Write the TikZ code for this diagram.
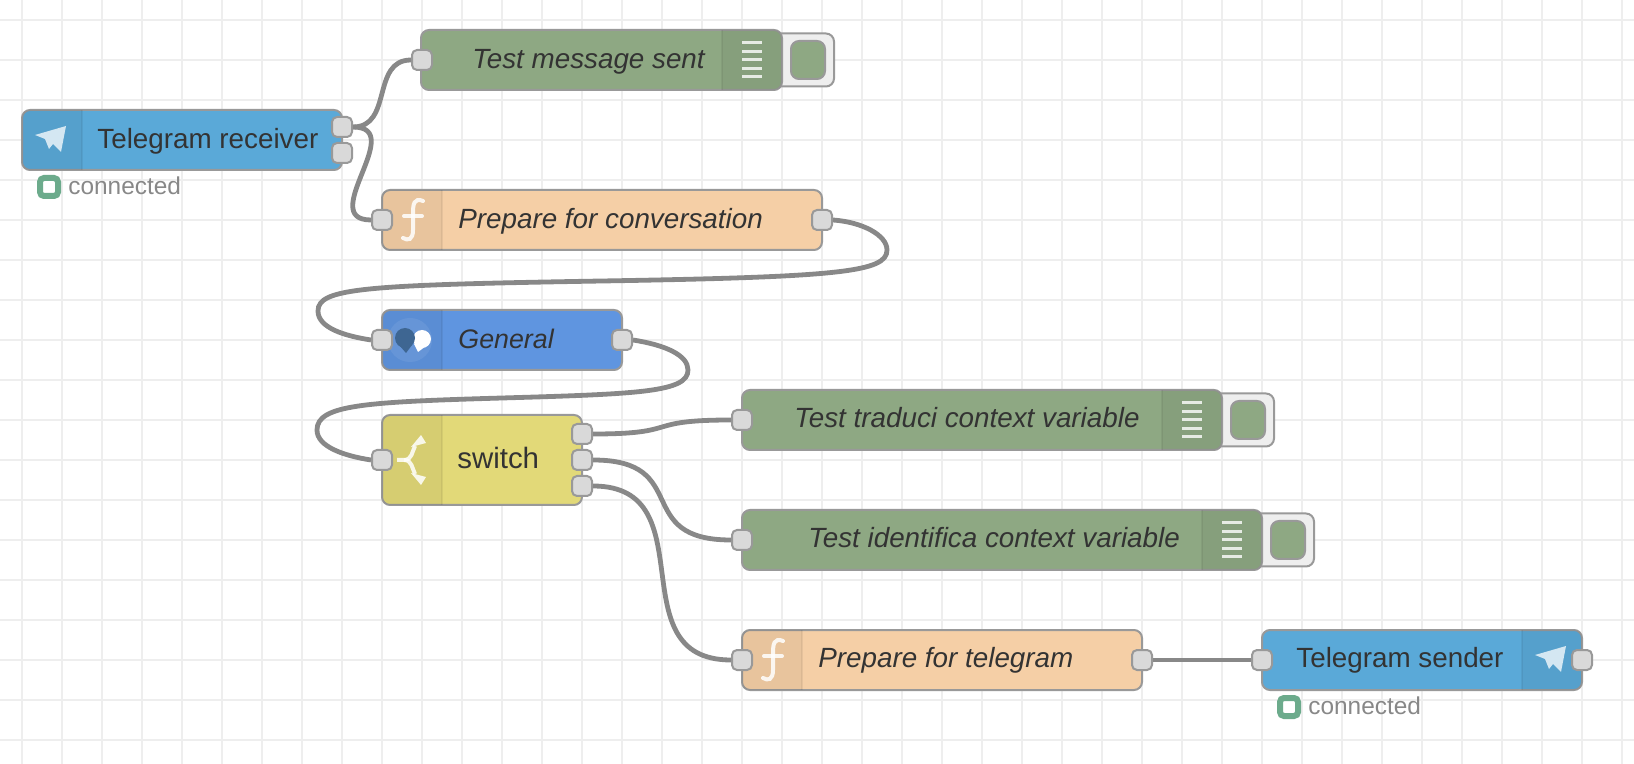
\documentclass[tikz,border=0pt]{standalone}
\usepackage{fontspec}
\setmainfont{Liberation Sans}
\usetikzlibrary{arrows.meta,calc}
\definecolor{nrblue}{RGB}{90,169,216}
\definecolor{nrgreen}{RGB}{142,168,131}
\definecolor{nrorange}{RGB}{245,207,166}
\definecolor{nrroyal}{RGB}{95,149,224}
\definecolor{nryellow}{RGB}{226,217,120}
\definecolor{nrgrid}{RGB}{238,238,238}
\definecolor{nredge}{RGB}{153,153,153}
\definecolor{nrwire}{RGB}{136,136,136}
\definecolor{nrport}{RGB}{217,217,217}
\definecolor{nrtext}{RGB}{51,51,51}
\definecolor{nrstatus}{RGB}{108,171,140}
\definecolor{nrdark}{RGB}{62,102,146}
\newcommand{\leftshade}[1]{\begin{scope}
  \clip[rounded corners=4pt] (#1.north west) rectangle (#1.south east);
  \fill[iconshade] (#1.north west) rectangle ($(#1.south west)+(60,0)$);
  \draw[icondiv] ($(#1.north west)+(60,0)$) -- ($(#1.south west)+(60,0)$);
\end{scope}}
\newcommand{\rightshade}[1]{\begin{scope}
  \clip[rounded corners=4pt] (#1.north west) rectangle (#1.south east);
  \fill[iconshade] (#1.north east) rectangle ($(#1.south east)+(-60,0)$);
  \draw[icondiv] ($(#1.north east)+(-60,0)$) -- ($(#1.south east)+(-60,0)$);
\end{scope}}
\newcommand{\planeicon}[1]{\fill[white, opacity=0.75, shift={(#1)}]
  (66,126) -- (35,135) -- (45,139) -- (49,149) -- (53,144) -- (61,152) -- cycle;}
\newcommand{\funcicon}[1]{\begin{scope}[shift={(#1)}]
  \draw[glyph] (41,-19) .. controls (32,-23) and (31,-15) .. (31,-8) -- (31,10)
    .. controls (31,20) and (26,21) .. (21,18);
  \draw[glyph] (22,-4) -- (40,-4);
\end{scope}}
\newcommand{\listicon}[1]{\begin{scope}[shift={(#1)}]
  \foreach \ly in {-17,-8.5,0,8.5,17} \draw[listbar] (-10,\ly) -- (10,\ly);
\end{scope}}
\begin{document}
\begin{tikzpicture}[x=0.5pt, y=-0.5pt,
  flowbox/.style={draw=nredge, line width=1pt, rounded corners=4pt, minimum height=30pt, inner sep=0pt, outer sep=0pt},
  port/.style={draw=nredge, line width=1pt, fill=nrport, rounded corners=2.5pt, minimum size=10pt, inner sep=0pt, outer sep=0.5pt},
  wire/.style={draw=nrwire, line width=2.4pt},
  label/.style={anchor=base west, inner sep=0pt, yshift=-0.5pt, text=nrtext, font=\fontsize{13.9}{16}\selectfont},
  flowlabel/.style={label, font=\fontsize{13.9}{16}\selectfont\itshape},
  statustext/.style={anchor=base west, inner sep=0pt, yshift=-0.7pt, text=nrwire, font=\fontsize{12.2}{14}\selectfont},
  statusdot/.style={draw=nrstatus, line width=3pt, fill=white, rounded corners=2pt, minimum size=9pt, inner sep=0pt},
  dbgbutton/.style={draw=nredge, line width=1pt, fill=nrgrid, rounded corners=4pt, minimum width=32pt, minimum height=26.5pt},
  dbginner/.style={draw=nredge, line width=1pt, fill=nrgreen, rounded corners=4pt, minimum width=17pt, minimum height=19pt, inner sep=0pt},
  iconshade/.style={fill=black, opacity=0.05},
  icondiv/.style={draw=black, opacity=0.06, line width=0.6pt},
  glyph/.style={draw=white, opacity=0.85, line width=2pt, line cap=round},
  listbar/.style={draw=white, opacity=0.8, line width=1.5pt},
  gridline/.style={draw=nrgrid, line width=1pt}]

\useasboundingbox[fill=white] (0,0) rectangle (1634,764);

% Grid
\foreach \gx in {22,62,...,1622} \draw[gridline] (\gx,0) -- (\gx,764);
\foreach \gy in {20,60,...,740} \draw[gridline] (0,\gy) -- (1634,\gy);

% Debug buttons
\node[dbgbutton] (dbgsentbtn) at (802,60) {};
\node[dbgbutton] (dbgtradbtn) at (1242,420) {};
\node[dbgbutton] (dbgidenbtn) at (1282,540) {};
\node[dbginner] (dbgsentdot) at (808,60) {};
\node[dbginner] (dbgtraddot) at (1248,420) {};
\node[dbginner] (dbgidendot) at (1288,540) {};

% Telegram receiver
\node[flowbox, fill=nrblue, minimum width=160pt] (recv) at (182,140) {};
\leftshade{recv}
\planeicon{0,0}
\node[label] (recvtxt) at (97,148) {Telegram receiver};
\node[statusdot] (recvdot) at (49,187) {};
\node[statustext] (recvstat) at (68,193) {connected};

% Test message sent
\node[flowbox, fill=nrgreen, minimum width=180.5pt] (dbgsent) at (601.5,60) {};
\rightshade{dbgsent}
\listicon{752,60}
\node[flowlabel] (dbgsenttxt) at (472,68) {Test message sent};

% Prepare for conversation
\node[flowbox, fill=nrorange, minimum width=220pt] (conv) at (602,220) {};
\leftshade{conv}
\funcicon{382,220}
\node[flowlabel] (convtxt) at (458,228) {Prepare for conversation};

% General
\node[flowbox, fill=nrroyal, minimum width=120pt] (gen) at (502,340) {};
\leftshade{gen}
\fill[white, opacity=0.08] (410,340) circle[radius=22];
\fill[white] (422,339) circle[radius=9];
\fill[white] (414,344) -- (418,352) -- (426,346) -- cycle;
\fill[nrdark] (405,338) circle[radius=10];
\fill[nrdark] (399,345) -- (406,353) -- (412,345) -- cycle;
\node[flowlabel, font=\fontsize{13.4}{16}\selectfont\itshape] (gentxt) at (458,348) {General};

% switch
\node[flowbox, fill=nryellow, minimum width=100pt, minimum height=45pt] (sw) at (482,460) {};
\leftshade{sw}
\draw[glyph, line cap=butt] (397,460) -- (404,460) .. controls (412,460) and (412,452) .. (415,446);
\draw[glyph, line cap=butt] (404,460) .. controls (412,460) and (412,468) .. (415,474);
\fill[white, opacity=0.85] (426,443) -- (421,435) -- (411,447) -- cycle;
\fill[white, opacity=0.85] (426,477) -- (421,485) -- (411,473) -- cycle;
\node[label, font=\fontsize{14.7}{16}\selectfont] (swtxt) at (457,468) {switch};

% Test traduci context variable
\node[flowbox, fill=nrgreen, minimum width=240pt] (dbgtrad) at (982,420) {};
\rightshade{dbgtrad}
\listicon{1192,420}
\node[flowlabel] (dbgtradtxt) at (794,427) {Test traduci context variable};

% Test identifica context variable
\node[flowbox, fill=nrgreen, minimum width=260pt] (dbgiden) at (1002,540) {};
\rightshade{dbgiden}
\listicon{1232,540}
\node[flowlabel] (dbgidentxt) at (808,547) {Test identifica context variable};

% Prepare for telegram
\node[flowbox, fill=nrorange, minimum width=200pt] (tele) at (942,660) {};
\leftshade{tele}
\funcicon{742,660}
\node[flowlabel] (teletxt) at (818,667) {Prepare for telegram};

% Telegram sender
\node[flowbox, fill=nrblue, minimum width=160pt] (send) at (1422,660) {};
\rightshade{send}
\planeicon{1500,520}
\node[label] (sendtxt) at (1296,667) {Telegram sender};
\node[statusdot] (senddot) at (1289,707) {};
\node[statustext] (sendstat) at (1308,713) {connected};

% Ports
\node[port] (recvo1) at (342,127) {};
\node[port] (recvo2) at (342,153) {};
\node[port] (dbgsenti) at (422,60) {};
\node[port] (convi) at (382,220) {};
\node[port] (convo) at (822,220) {};
\node[port] (geni) at (382,340) {};
\node[port] (geno) at (622,340) {};
\node[port] (swi) at (382,460) {};
\node[port] (swo1) at (582,434) {};
\node[port] (swo2) at (582,460) {};
\node[port] (swo3) at (582,486) {};
\node[port] (dbgtradi) at (742,420) {};
\node[port] (dbgideni) at (742,540) {};
\node[port] (telei) at (742,660) {};
\node[port] (teleo) at (1142,660) {};
\node[port] (sendi) at (1262,660) {};
\node[port] (sendo) at (1582,660) {};

% Wires
\draw[wire] (recvo1.east) .. controls +(40,0) and +(-40,0) .. (dbgsenti.west);
\draw[wire] (recvo1.east) .. controls +(55,0) and +(-55,0) .. (convi.west);
\draw[wire] (convo.east) .. controls (862,222) and (887,235) .. (887,250)
  .. controls (887,272) and (840,277) .. (602,281)
  .. controls (364,285) and (318,288) .. (318,311)
  .. controls (318,328) and (345,336) .. (geni.west);
\draw[wire] (geno.east) .. controls (665,345) and (688,355) .. (688,370)
  .. controls (688,392) and (640,394) .. (502,398)
  .. controls (364,402) and (317,405) .. (317,430)
  .. controls (317,447) and (345,456) .. (swi.west);
\draw[wire] (swo1.east) .. controls +(90,0) and +(-90,0) .. (dbgtradi.west);
\draw[wire] (swo2.east) .. controls +(100,0) and +(-100,0) .. (dbgideni.west);
\draw[wire] (swo3.east) .. controls +(115,0) and +(-115,0) .. (telei.west);
\draw[wire] (teleo.east) -- (sendi.west);

\end{tikzpicture}
\end{document}
